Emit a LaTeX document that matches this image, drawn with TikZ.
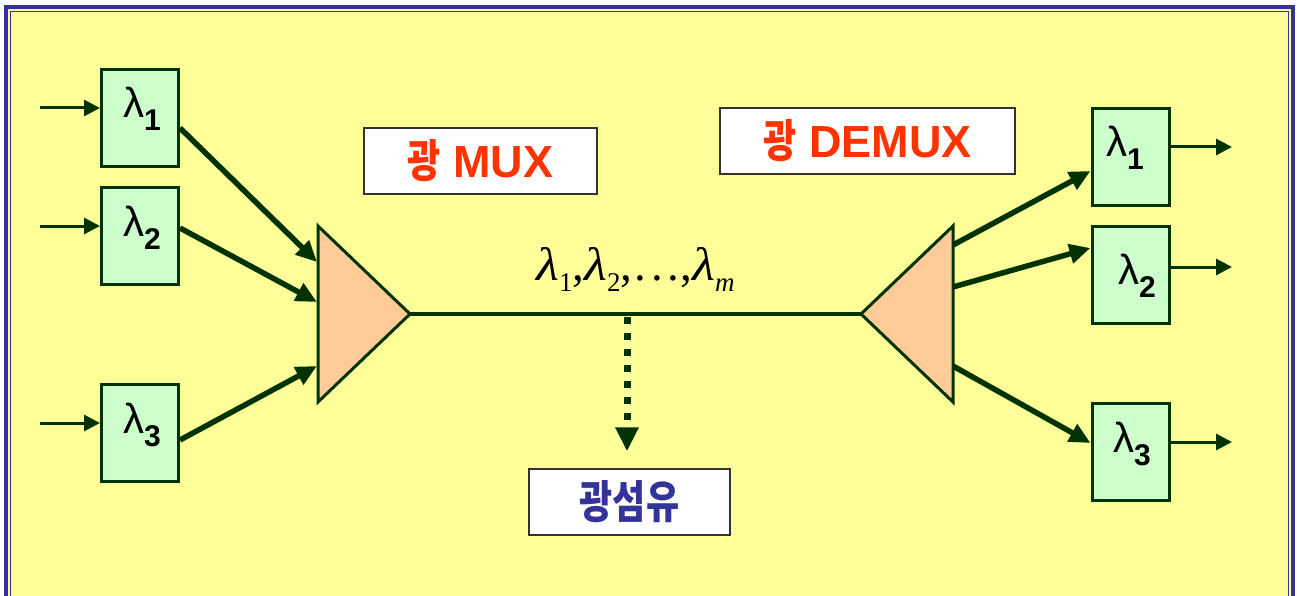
\documentclass[tikz,border=0pt]{standalone}
\usepackage{fontspec}
\setmainfont{Liberation Sans}
\newfontfamily\kr{Noto Sans CJK KR}
\newfontfamily\ser{Liberation Serif}
\usetikzlibrary{arrows.meta,calc,shadows}
\definecolor{frameblue}{HTML}{333399}
\definecolor{bgyellow}{HTML}{FFFF99}
\definecolor{dkgreen}{HTML}{003300}
\definecolor{boxgreen}{HTML}{CCFFCC}
\definecolor{peach}{HTML}{FFCC99}
\definecolor{txtred}{HTML}{FF3300}
\definecolor{txtblue}{HTML}{333399}
\newcommand\hg[1]{\scalebox{0.8}[1]{\kr\bfseries #1}}
\newcommand\sub[1]{\fontsize{30}{30}\selectfont\bfseries #1}
\newcommand\lamit{\scalebox{1.12}[1]{\itshape λ}}
\newcommand\subs[1]{\raisebox{-11pt}{\fontsize{27}{27}\selectfont #1}}
\begin{document}
\begin{tikzpicture}[x=1pt,y=-1pt,
  wbox/.style={draw=dkgreen,fill=boxgreen,line width=3pt,minimum width=77pt,minimum height=97pt,inner sep=0pt},
  lam/.style={inner sep=0pt,anchor=base west,font=\fontsize{42}{42}\selectfont},
  tri/.style={draw=dkgreen,fill=peach,line width=3pt,line join=miter},
  inarrow/.style={draw=dkgreen,line width=3pt,-{Triangle[length=16pt,width=16pt]}},
  thick arrow/.style={draw=dkgreen,line width=5.5pt,-{Triangle[length=21pt,width=19pt]}},
  tbox/.style={draw=black!80,line width=1.3pt,fill=white,minimum height=66pt,inner sep=0pt,
    drop shadow={shadow xshift=1.2pt,shadow yshift=-1.2pt,fill=black!45,opacity=1}},
  mtext/.style={text=txtred,font=\fontsize{45}{45}\selectfont\bfseries}]
\useasboundingbox (0,0) rectangle (1297,596);
\fill[white] (0,0) rectangle (1297,596);
% frame
\fill[bgyellow] (5.5,7.5) rectangle (1292.5,620);
\draw[frameblue,line width=4pt] (5.5,7.5) rectangle (1292.5,620);
\draw[frameblue,line width=1.8pt] (10.5,11.5) rectangle (1288.5,620);

% left boxes
\node[wbox] (l1) at (140,118) {};
\node[wbox] (l2) at (140,236) {};
\node[wbox] (l3) at (140,433) {};
\node[lam] (t1) at (123,118) {λ\raisebox{-13pt}{\sub{1}}};
\node[lam] (t2) at (123,236) {λ\raisebox{-13pt}{\sub{2}}};
\node[lam] (t3) at (123,433) {λ\raisebox{-13pt}{\sub{3}}};
% input arrows
\coordinate (s1) at (40,108);
\coordinate (s2) at (40,226);
\coordinate (s3) at (40,423);
\draw[inarrow] (s1) -- (s1 -| l1.west);
\draw[inarrow] (s2) -- (s2 -| l2.west);
\draw[inarrow] (s3) -- (s3 -| l3.west);

% right boxes
\node[wbox] (r1) at (1130.5,157) {};
\node[wbox] (r2) at (1130.5,275) {};
\node[wbox] (r3) at (1130.5,452) {};
\node[lam] (u1) at (1106,157) {λ\raisebox{-13pt}{\sub{1}}};
\node[lam] (u2) at (1118,284) {λ\raisebox{-13pt}{\sub{2}}};
\node[lam] (u3) at (1113,452) {λ\raisebox{-13pt}{\sub{3}}};
% output arrows
\coordinate (e1) at (1232,147);
\coordinate (e2) at (1232,267);
\coordinate (e3) at (1232,442);
\draw[inarrow] (e1 -| r1.east) -- (e1);
\draw[inarrow] (e2 -| r2.east) -- (e2);
\draw[inarrow] (e3 -| r3.east) -- (e3);

% MUX triangle
\draw[tri] (318,226) -- (410,314) -- (318,402) -- cycle;
\coordinate (muxout) at (410,314);
\coordinate (mi1) at (317,262);
\coordinate (mi2) at (317,302);
\coordinate (mi3) at (317,366);
% DEMUX triangle
\draw[tri] (953,226) -- (861,314) -- (953,402) -- cycle;
\coordinate (demin) at (861,314);
\coordinate (do1) at (953,245);
\coordinate (do2) at (953,287);
\coordinate (do3) at (953,366);

% fiber
\draw[dkgreen,line width=3.2pt] (muxout) -- (demin);

% mux inputs
\draw[thick arrow] ($(l1.north east)!0.6!(l1.south east)$) -- (mi1);
\draw[thick arrow] ($(l2.north east)!0.42!(l2.south east)$) -- (mi2);
\draw[thick arrow] ($(l3.north east)!0.57!(l3.south east)$) -- (mi3);
% demux outputs
\draw[thick arrow] (do1) -- ($(r1.north west)!0.64!(r1.south west)$);
\draw[thick arrow] (do2) -- ($(r2.north west)!0.23!(r2.south west)$);
\draw[thick arrow] (do3) -- ($(r3.north west)!0.41!(r3.south west)$);

% wavelength label
\node[inner sep=0pt,anchor=base west] (seq) at (536,280)
  {\ser\fontsize{47}{47}\selectfont
   \lamit\subs{1},\lamit\subs{2},\kern2pt.\kern5pt.\kern5pt.\kern1pt,\lamit\subs{\itshape m}};

\node[tbox,minimum width=233pt] (mux) at (480.5,161) {};
\node[mtext] at (mux.center) {\hg{광} MUX};
\node[tbox,minimum width=295pt] (demux) at (867.5,141) {};
\node[mtext] at (demux.center) {\hg{광} DEMUX};
\node[tbox,minimum width=201pt] (fib) at (629.5,502) {};
\node[text=txtblue,font=\fontsize{45}{45}\selectfont] at (fib.center) {\hg{광섬유}};

% tap
\coordinate (tap) at (627,314);
\draw[dkgreen,line width=7pt,dash pattern=on 7pt off 9pt,shorten <=3pt,shorten >=17pt,
  -{Triangle[length=24pt,width=22pt]}] (tap) -- (tap |- fib.north);
\end{tikzpicture}
\end{document}
